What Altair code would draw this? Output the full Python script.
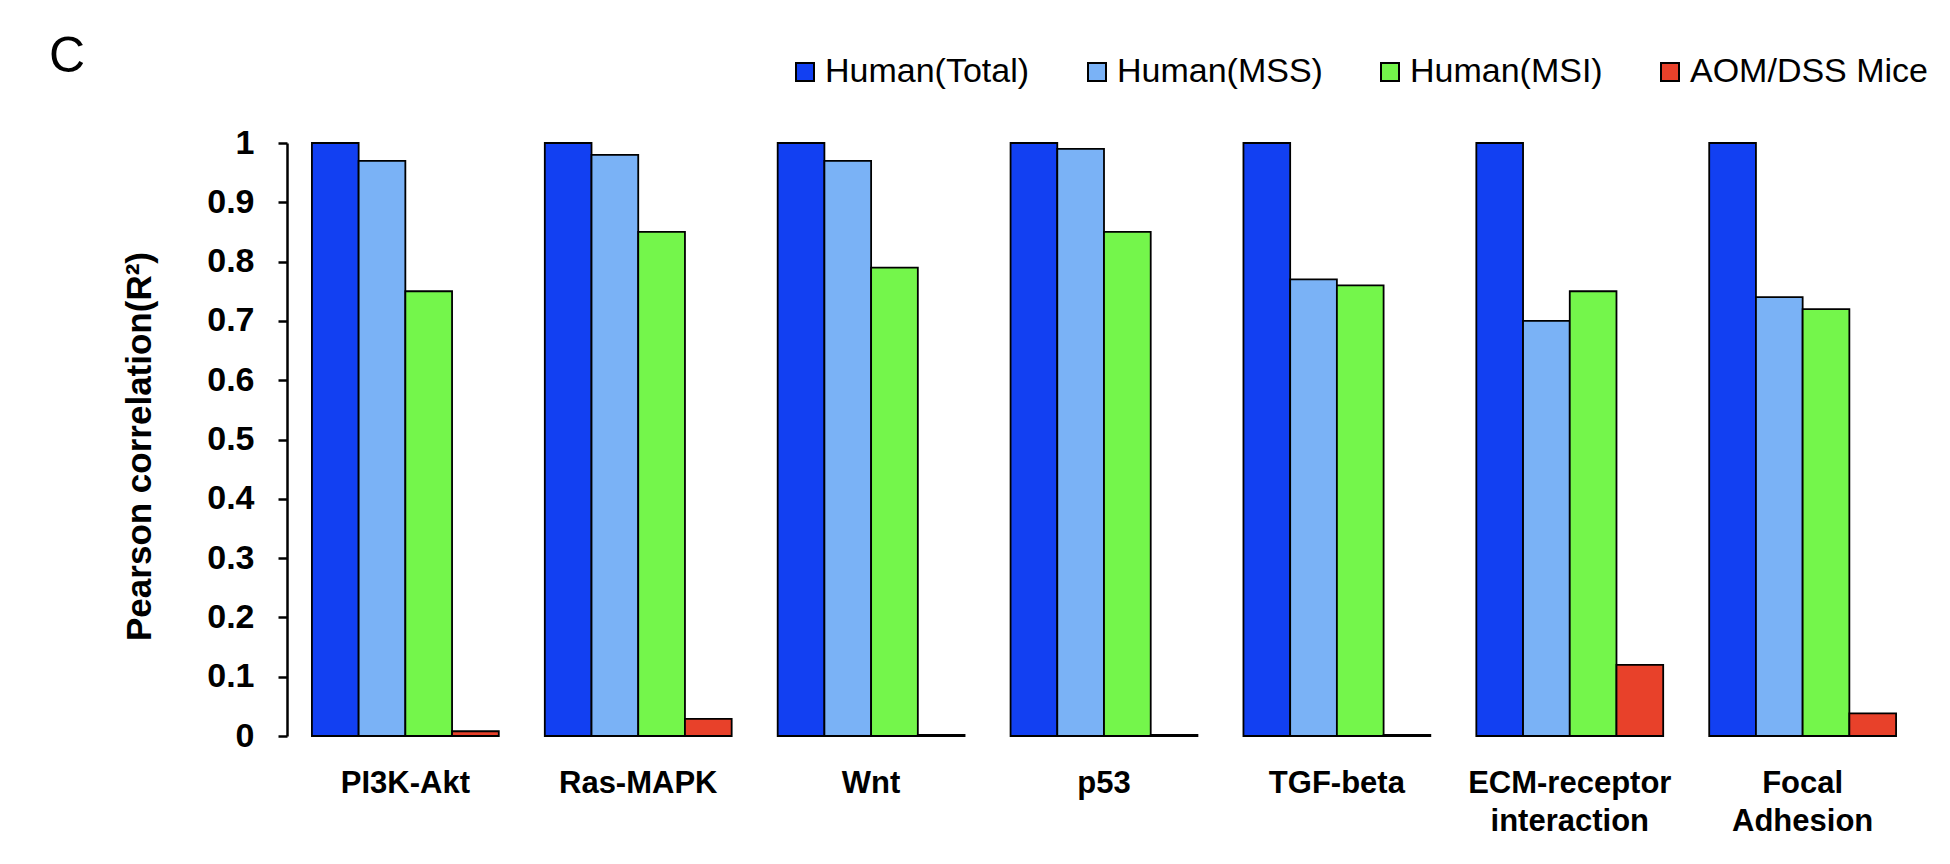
import altair as alt
import pandas as pd

pathways = ["PI3K-Akt", "Ras-MAPK", "Wnt", "p53", "TGF-beta",
            "ECM-receptor interaction", "Focal Adhesion"]
series = ["Human(Total)", "Human(MSS)", "Human(MSI)", "AOM/DSS Mice"]
human_total = [1.00, 1.00, 1.00, 1.00, 1.00, 1.00, 1.00]
human_mss = [0.97, 0.98, 0.97, 0.99, 0.77, 0.70, 0.74]
human_msi = [0.75, 0.85, 0.79, 0.85, 0.76, 0.75, 0.72]
aom_dss = [0.008, 0.029, 0.002, 0.002, 0.002, 0.12, 0.038]
colors = ["#1240F2", "#7AB2F6", "#74F64B", "#E8412A"]
y_ticks = [0, 0.1, 0.2, 0.3, 0.4, 0.5, 0.6, 0.7, 0.8, 0.9, 1]

rows = []
for s, vals in zip(series, [human_total, human_mss, human_msi, aom_dss]):
    for p, v in zip(pathways, vals):
        rows.append({"pathway": p, "series": s, "value": v})
df = pd.DataFrame(rows)

FONT = "Liberation Sans, Arial, Helvetica, sans-serif"

chart = alt.Chart(df).mark_bar(stroke="black", strokeWidth=1.8).encode(
    x=alt.X(
        "pathway:N", sort=pathways,
        scale=alt.Scale(paddingInner=0.1976, paddingOuter=0.107),
        axis=alt.Axis(
            title=None, domain=False, ticks=False, labelAngle=0,
            labelExpr="split(datum.label, ' ')",
            labelFont=FONT, labelFontSize=31, labelFontWeight="bold",
            labelColor="black", labelPadding=32, labelLineHeight=38,
            labelBaseline="top", labelLimit=400,
        ),
    ),
    xOffset=alt.XOffset("series:N", sort=series,
                        scale=alt.Scale(paddingInner=0, paddingOuter=0)),
    y=alt.Y(
        "value:Q",
        scale=alt.Scale(domain=[0, 1], nice=False, zero=True),
        axis=alt.Axis(
            values=y_ticks, format=".1~f", grid=False,
            title="Pearson correlation(R\u00b2)",
            titleFont=FONT, titleFontSize=35, titleFontWeight="bold",
            titleColor="black", titleAngle=270, titleX=-148, titleY=303,
            titleAlign="center", titleBaseline="middle",
            labelFont=FONT, labelFontSize=34, labelFontWeight="bold",
            labelColor="black", labelPadding=24,
            domainColor="black", domainWidth=2.5,
            tickColor="black", tickWidth=2.5, tickSize=9,
        ),
    ),
    color=alt.Color(
        "series:N", sort=series,
        scale=alt.Scale(domain=series, range=colors),
        legend=alt.Legend(
            title=None, orient="none", direction="horizontal",
            legendX=501, legendY=-88, padding=0,
            columns=4, gridAlign="each",
            symbolType="square", symbolSize=324, symbolStrokeColor="black",
            symbolStrokeWidth=2, symbolOpacity=1,
            labelFont=FONT, labelFontSize=34, labelColor="black",
            labelOffset=3, columnPadding=50, labelLimit=400,
        ),
    ),
).properties(
    width=1634, height=593,
    title=alt.TitleParams(
        "C", anchor="start", frame="group", font=FONT, fontSize=50,
        fontWeight="normal", color="black", dx=-238, dy=31,
    ),
    autosize=alt.AutoSizeParams(type="none"),
    padding={"left": 279, "top": 135, "right": 20, "bottom": 110},
).configure_view(stroke=None)

chart.save("out.html", embed_options={"renderer": "svg", "actions": False})
